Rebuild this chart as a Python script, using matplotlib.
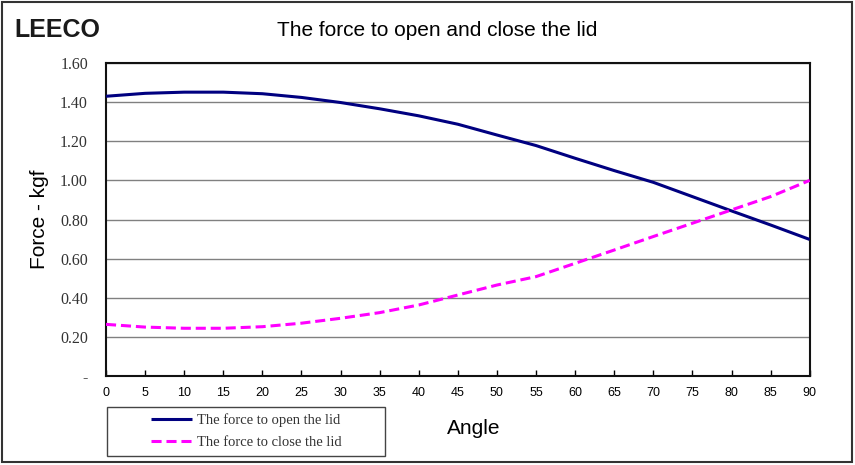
import matplotlib
matplotlib.use("Agg")
import matplotlib.pyplot as plt
from matplotlib.patches import Rectangle
from matplotlib.ticker import FuncFormatter

angle = [0, 5, 10, 15, 20, 25, 30, 35, 40, 45, 50, 55, 60, 65, 70, 75, 80, 85, 90]
force_open = [1.43, 1.445, 1.451, 1.451, 1.443, 1.424, 1.398, 1.366, 1.330, 1.287,
              1.232, 1.178, 1.113, 1.050, 0.990, 0.917, 0.844, 0.772, 0.698]
force_close = [0.264, 0.250, 0.244, 0.244, 0.252, 0.270, 0.295, 0.324, 0.363, 0.414,
               0.465, 0.508, 0.576, 0.644, 0.713, 0.781, 0.849, 0.917, 1.0]

sans = "Liberation Sans"
serif = "Liberation Serif"

fig = plt.figure(figsize=(8.55, 4.65), dpi=100)
ax = fig.add_axes([0.124, 0.1914, 0.823, 0.6731])

ax.plot(angle, force_open, color="#000080", lw=2.2, label="The force to open the lid",
        solid_capstyle="butt", zorder=3)
ax.plot(angle, force_close, color="#FF00FF", lw=2.2, ls=(0, (3.3, 1.6)),
        label="The force to close the lid", zorder=3)

ax.set_xlim(0, 90)
ax.set_ylim(0, 1.6)
ax.set_xticks(range(0, 91, 5))
ax.set_yticks([0, 0.2, 0.4, 0.6, 0.8, 1.0, 1.2, 1.4, 1.6])
ax.yaxis.set_major_formatter(FuncFormatter(lambda v, p: "-" if abs(v) < 1e-9 else f"{v:.2f}"))
ax.grid(axis="y", color="#808080", lw=1.0)
ax.set_axisbelow(True)

ax.tick_params(axis="x", direction="in", length=4, width=1, pad=8, labelsize=9)
ax.tick_params(axis="y", length=0, pad=13, labelsize=11.5, labelcolor="#333333")
for lab in ax.get_xticklabels():
    lab.set_family(sans)
for lab in ax.get_yticklabels():
    lab.set_family(serif)
for s in ax.spines.values():
    s.set_linewidth(1.5)
    s.set_color("#111111")

ax.set_ylabel("Force - kgf", fontsize=15, family=sans, labelpad=8)
fig.text(0.554, 0.079, "Angle", fontsize=15, family=sans, ha="center", va="center")
fig.text(0.511, 0.935, "The force to open and close the lid", fontsize=15,
         family=sans, ha="center", va="center")
fig.text(0.017, 0.935, "LEECO", fontsize=18, family=sans, weight="bold",
         color="#1a1a1a", ha="left", va="center")

# legend box drawn separately so the entries sit centred in it
box = (107 / 855, 1 - 456 / 465, 278 / 855, 49 / 465)
fig.patches.append(Rectangle(box[:2], box[2], box[3], transform=fig.transFigure,
                             fill=False, edgecolor="#444444", lw=1.0))
leg = ax.legend(loc="center", bbox_to_anchor=box, bbox_transform=fig.transFigure,
                frameon=False, borderaxespad=0, borderpad=0.2,
                prop={"family": serif, "size": 10.5}, handlelength=2.8,
                handletextpad=0.35, labelspacing=0.6)
for t in leg.get_texts():
    t.set_color("#333333")

fig.patches.append(Rectangle((0.002, 0.006), 0.995, 0.99, transform=fig.transFigure,
                             fill=False, edgecolor="#333333", lw=1.5))

fig.savefig("out.png", dpi=100)
